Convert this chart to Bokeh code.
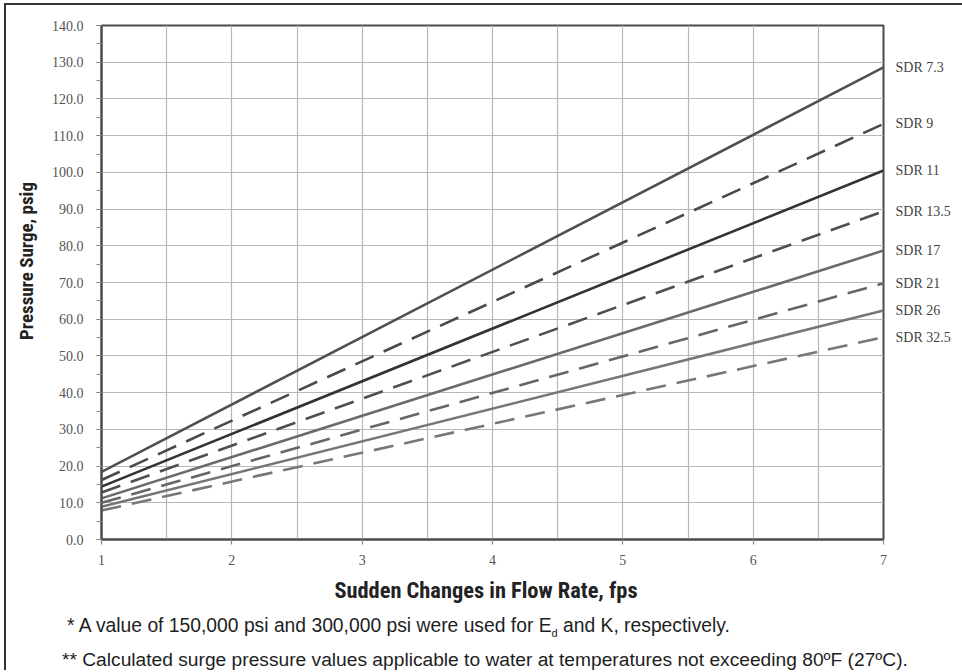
from bokeh.plotting import figure
from bokeh.models import (FixedTicker, SingleIntervalTicker, NumeralTickFormatter,
                          Range1d, LinearAxis, Div, Column, Row)
from bokeh.embed import file_html
from bokeh.resources import INLINE

# ---------------- data ----------------
flow_rate = [1, 7]                       # fps (lines are straight between the ends)
sdr_names = ["SDR 7.3", "SDR 9", "SDR 11", "SDR 13.5", "SDR 17", "SDR 21", "SDR 26", "SDR 32.5"]
sdr_7_3 = [18.4, 128.6]
sdr_9 = [16.2, 113.2]
sdr_11 = [14.4, 100.5]
sdr_13_5 = [12.8, 89.4]
sdr_17 = [11.2, 78.7]
sdr_21 = [10.0, 69.8]
sdr_26 = [8.9, 62.4]
sdr_32_5 = [7.9, 55.1]
series = [sdr_7_3, sdr_9, sdr_11, sdr_13_5, sdr_17, sdr_21, sdr_26, sdr_32_5]

x_tick_values = [1, 2, 3, 4, 5, 6, 7]
x_grid_values = [1.5, 2, 2.5, 3, 3.5, 4, 4.5, 5, 5.5, 6, 6.5]
y_tick_values = [0, 10, 20, 30, 40, 50, 60, 70, 80, 90, 100, 110, 120, 130, 140]

x_title = "Sudden Changes in Flow Rate, fps"
y_title = "Pressure Surge, psig"
note_1 = ("* A value of 150,000 psi and 300,000 psi were used for E", "d", " and K, respectively.")
note_2 = "** Calculated surge pressure values applicable to water at temperatures not exceeding 80\u00baF (27\u00baC)."

# ---------------- styles ----------------
line_colors = ["#505050", "#4a4a4a", "#333333", "#4f4f4f", "#6a6a6a", "#666666", "#767676", "#777777"]
line_dashes = ["solid", "20 11", "solid", "20 11", "solid", "20 11", "solid", "20 11"]

SERIF = "Liberation Serif"
SANS = "Liberation Sans"
COND = "Roboto Condensed"

p = figure(frame_width=782, frame_height=514,
           min_border_left=53, min_border_right=71, min_border_top=20, min_border_bottom=34,
           x_range=Range1d(1, 7), y_range=Range1d(0, 140),
           output_backend="svg", toolbar_location=None,
           background_fill_color="white", border_fill_color="white")

p.outline_line_color = "#4a4a4a"
p.outline_line_width = 2

# grid
p.xgrid.ticker = FixedTicker(ticks=x_grid_values)
p.ygrid.ticker = FixedTicker(ticks=y_tick_values)
for g in (p.xgrid, p.ygrid):
    g.grid_line_color = "#b8b8b8"
    g.grid_line_width = 1.2

# axes
p.xaxis.ticker = FixedTicker(ticks=x_tick_values)
p.yaxis.ticker = SingleIntervalTicker(interval=10, num_minor_ticks=2)
p.yaxis.formatter = NumeralTickFormatter(format="0.0")
for ax in (p.xaxis, p.yaxis):
    ax.axis_line_color = "#4a4a4a"
    ax.axis_line_width = 2
    ax.major_tick_line_color = "#888888"
    ax.major_tick_line_width = 1.2
    ax.major_tick_in = 0
    ax.major_tick_out = 5
    ax.minor_tick_line_color = "#888888"
    ax.minor_tick_line_width = 1.2
    ax.minor_tick_in = 0
    ax.minor_tick_out = 5
    ax.major_label_text_font = SERIF
    ax.major_label_text_font_size = "14px"
    ax.major_label_text_color = "#555555"
p.xaxis.major_label_standoff = 10
p.yaxis.major_label_standoff = 13

# lines
for ys, c, d in zip(series, line_colors, line_dashes):
    p.line(flow_rate, ys, line_color=c, line_width=2.6, line_dash=d)

# series names at the right-hand end of each line (a label-only axis)
end_values = [ys[-1] for ys in series]
name_axis = LinearAxis(ticker=FixedTicker(ticks=end_values),
                       major_label_overrides={v: n for v, n in zip(end_values, sdr_names)},
                       axis_line_color=None, major_tick_line_color=None,
                       minor_tick_line_color=None, major_tick_out=0, major_tick_in=0,
                       major_label_standoff=12,
                       major_label_text_font=SERIF, major_label_text_font_size="14px",
                       major_label_text_color="#444444")
p.add_layout(name_axis, "right")

# y-axis title (rotated, sits left of the figure)
y_title_div = Div(
    text=('<div style="writing-mode:vertical-rl; transform:rotate(180deg); height:512px; '
          'width:42px; line-height:42px; text-align:center; white-space:nowrap; '
          "font-family:'Roboto Condensed'; font-weight:bold; font-size:19px; color:#222222;\">"
          + y_title + '</div>'),
    width=42, height=512, margin=0)

# x-axis title and footnotes
bottom_html = (
    '<div style="position:relative; width:956px; height:97px;">'
    '<div style="position:absolute; top:4px; left:480px; transform:translateX(-50%); '
    "line-height:26px; white-space:nowrap; font-family:'Roboto Condensed'; font-weight:bold; "
    'font-size:22.4px; color:#222222;">' + x_title + '</div>'
    '<div style="position:absolute; top:42px; left:61px; line-height:22px; white-space:nowrap;">'
    + note_1[0]
    + '<span style="font-size:11px; position:relative; top:5px;">' + note_1[1] + '</span>'
    + note_1[2] + '</div>'
    '<div style="position:absolute; top:77px; left:56px; line-height:20px; white-space:nowrap; '
    'font-size:19.2px;">' + note_2 + '</div></div>'
)
bottom = Div(text=bottom_html, width=956, height=97, margin=0,
             styles={"font-family": SANS, "font-size": "19.3px", "color": "#1e1e1e"})

layout = Column(children=[Row(children=[y_title_div, p], spacing=0), bottom], spacing=0,
                styles={"margin-left": "4px", "margin-top": "3px",
                        "border-left": "2px solid #333333", "border-top": "2px solid #333333"})

open("out.html", "w").write(file_html(layout, INLINE))
